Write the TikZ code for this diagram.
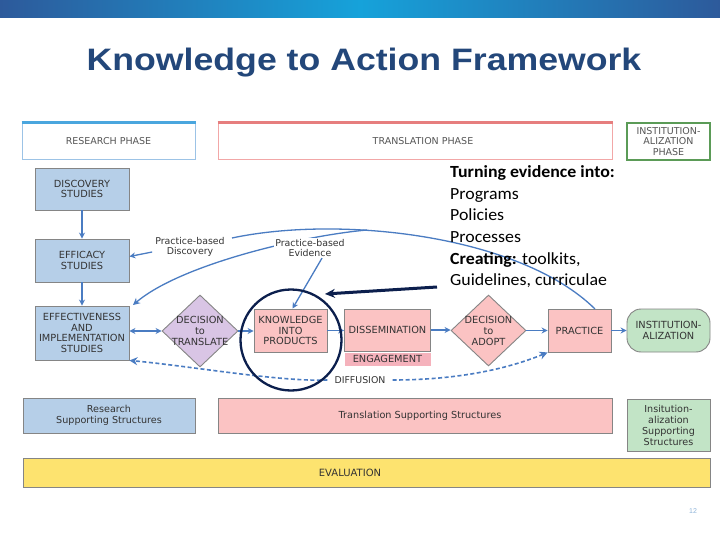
\documentclass[tikz,border=0pt]{standalone}
\usepackage{fontspec}
\setmainfont{Liberation Sans}
\newfontfamily\dfont{DejaVu Sans}
\newfontfamily\cfont[FakeStretch=1.05]{Carlito}
\newfontfamily\titlefont[FakeStretch=1.15]{Liberation Sans Bold}
\usetikzlibrary{shapes.geometric,arrows.meta}
\definecolor{bannerdark}{HTML}{2D5A9B}
\definecolor{bannerlight}{HTML}{16A2DA}
\definecolor{titlec}{HTML}{23477A}
\definecolor{bluef}{HTML}{B6CFE8}
\definecolor{pinkf}{HTML}{FBC3C3}
\definecolor{lavf}{HTML}{D9C5E5}
\definecolor{greenf}{HTML}{C2E4C6}
\definecolor{yellowf}{HTML}{FDE36F}
\definecolor{engf}{HTML}{F5B2BC}
\definecolor{boxline}{HTML}{858585}
\definecolor{txt}{HTML}{333333}
\definecolor{hdrtxt}{HTML}{555555}
\definecolor{arrowc}{HTML}{4A7CC2}
\definecolor{navy}{HTML}{0C1F4D}
\definecolor{resline}{HTML}{9CC3E6}
\definecolor{restop}{HTML}{4AA6DE}
\definecolor{transline}{HTML}{F2A7A7}
\definecolor{transtop}{HTML}{E67E7E}
\definecolor{instline}{HTML}{5B9B57}
\definecolor{pagec}{HTML}{8FB4D9}
\tikzset{
  dtext/.style={font=\dfont\fontsize{9.8}{10.7}\selectfont, text=txt, align=center, inner sep=0pt},
  box/.style={dtext, draw=boxline, line width=0.9pt},
  bluebox/.style={box, fill=bluef},
  pinkbox/.style={box, fill=pinkf},
  greenbox/.style={box, fill=greenf},
  dia/.style={diamond, draw=boxline, line width=0.9pt, inner sep=0pt, minimum width=76pt, minimum height=72pt},
  hdr/.style={fill=white, font=\dfont\fontsize{9.5}{10.6}\selectfont, text=hdrtxt, align=center, inner sep=0pt},
  lbl/.style={fill=white, font=\dfont\fontsize{9.4}{10.5}\selectfont, text=txt, align=center, inner sep=1pt},
  flow/.style={draw=arrowc, line width=1.3pt, -{Stealth[length=6pt,width=6pt]}},
  dflow/.style={draw=arrowc, line width=1.3pt, {Stealth[length=6pt,width=6pt]}-{Stealth[length=6pt,width=6pt]}},
  arc/.style={draw=arrowc, line width=1.3pt},
  dashflow/.style={draw=arrowc, line width=1.6pt, dash pattern=on 4pt off 2.5pt, -{Stealth[length=8pt,width=8pt]}},
  tb/.style={font=\cfont\fontsize{17}{20}\selectfont, text=black, inner sep=0pt, anchor=base west},
}
\begin{document}
\begin{tikzpicture}[x=1pt,y=-1pt]
\useasboundingbox (0,0) rectangle (720,540);
\fill[white] (0,0) rectangle (720,540);
% banner
\shade[left color=bannerdark, right color=bannerdark, middle color=bannerlight] (0,0) rectangle (720,18);
% title
\node[font=\titlefont\fontsize{31}{34}\selectfont, text=titlec, anchor=base, inner sep=0pt] (title) at (364,71) {Knowledge to Action Framework};

% phase headers
\node[hdr, draw=resline, line width=1pt, minimum width=173pt, minimum height=37pt] (resph) at (108.5,141.5) {RESEARCH PHASE};
\draw[restop, line width=2.5pt] (resph.north west) -- (resph.north east);
\node[hdr, draw=transline, line width=1pt, minimum width=394pt, minimum height=37pt] (transph) at (415,141.5) {};
\draw[transtop, line width=2.5pt] (transph.north west) -- (transph.north east);
\node[hdr] (transtxt) at (423,141.5) {TRANSLATION PHASE};
\node[hdr, draw=instline, line width=1.6pt, minimum width=83pt, minimum height=37pt] (instph) at (668.5,141.5) {INSTITUTION-\\ALIZATION\\PHASE};

% research column
\node[bluebox, minimum width=94pt, minimum height=42pt] (disc) at (82,189) {DISCOVERY\\STUDIES};
\node[bluebox, minimum width=94pt, minimum height=43pt] (eff) at (82,260.5) {EFFICACY\\STUDIES};
\node[bluebox, minimum width=94pt, minimum height=54pt] (eimp) at (82,333) {EFFECTIVENESS\\AND\\IMPLEMENTATION\\STUDIES};

% translation row
\node[dia, fill=lavf] (dtt) at (200,331) {};
\node[dtext] (dtttxt) at (200,331) {DECISION\\to\\TRANSLATE};
\node[pinkbox, minimum width=73pt, minimum height=43pt] (kip) at (290.5,330.5) {KNOWLEDGE\\INTO\\PRODUCTS};
\node[pinkbox, minimum width=86pt, minimum height=42pt] (diss) at (387.5,330) {DISSEMINATION};
\node[dtext, fill=engf, minimum width=86pt, minimum height=13pt] (eng) at (387.5,359) {ENGAGEMENT};
\node[dia, fill=pinkf, minimum width=75pt, minimum height=71pt] (dta) at (488.5,330.5) {};
\node[dtext] (dtatxt) at (488.5,331) {DECISION\\to\\ADOPT};
\node[pinkbox, minimum width=63pt, minimum height=43pt] (prac) at (579.5,330.5) {PRACTICE};
\node[greenbox, rounded corners=14pt, minimum width=83pt, minimum height=43pt] (inst) at (668.5,330.5) {INSTITUTION-\\ALIZATION};

% straight flows
\draw[flow] (disc.south) -- (eff.north);
\draw[flow] (eff.south) -- (eimp.north);
\draw[dflow] (eimp.east |- dtt.west) -- (dtt.west);
\draw[flow] (dtt.east) -- (kip.west |- dtt.east);
\draw[flow] (kip.east) -- (diss.west |- kip.east);
\draw[flow] (diss.east) -- (dta.west |- diss.east);
\draw[flow] (dta.east) -- (prac.west |- dta.east);
\draw[flow] (prac.east) -- (inst.west);

% feedback arcs
\coordinate (arcstart) at (595,309);
\coordinate (arcend) at (232,238);
\coordinate (merge) at (367,230);
\coordinate (eimptip) at (133,305);
\draw[arc] (arcstart) .. controls (520,235) and (340,215) .. (arcend);
\draw[arc, -{Stealth[length=7pt,width=7pt]}] (merge) .. controls (300,236) and (180,265) .. (eimptip);
\node[lbl] (pbd) at (190,247) {Practice-based\\Discovery};
\node[lbl] (pbe) at (310,248) {Practice-based\\Evidence};
\draw[flow] ([xshift=-2pt,yshift=-5pt]pbd.west) -- ([yshift=4pt]eff.east);
\draw[flow] ([xshift=12pt]pbe.south) -- ([xshift=2pt]kip.north);

% diffusion
\node[lbl, inner sep=2pt] (dif) at (360,380) {DIFFUSION};
\draw[dashflow] ([xshift=-5pt]dif.west) .. controls (280,382) and (190,366) .. (eimp.south east);
\draw[dashflow] ([xshift=5pt]dif.east) .. controls (460,380) and (510,368) .. (prac.south west);

% supporting structures
\node[bluebox, font=\dfont\fontsize{9.6}{11}\selectfont, minimum width=172pt, minimum height=35pt] (rss) at (109,415.5) {Research\\Supporting Structures};
\node[pinkbox, minimum width=394pt, minimum height=35pt] (tss) at (415,415.5) {};
\node[dtext, font=\dfont\fontsize{9.7}{11}\selectfont] (tsstxt) at (420,415.5) {Translation Supporting Structures};
\node[greenbox, font=\dfont\fontsize{9.6}{10.8}\selectfont, minimum width=83pt, minimum height=52pt] (iss) at (668.5,425.5) {Insitution-\\alization\\Supporting\\Structures};

% evaluation
\node[box, fill=yellowf, minimum width=687pt, minimum height=29pt] (evalbar) at (366.5,472.5) {};
\node[dtext, font=\dfont\fontsize{10}{11}\selectfont] (evaltxt) at (350,473) {EVALUATION};

% annotation
\node[circle, draw=navy, line width=2.3pt, minimum size=101pt, inner sep=0pt] (ring) at (291,340) {};
\coordinate (navystart) at (437,287);
\coordinate (navytip) at (325,294);
\draw[navy, line width=3pt, -{Stealth[length=10pt,width=9pt]}] (navystart) -- (navytip);

\node[tb] (l1) at (450,178) {\textbf{Turning evidence into:}};
\node[tb] (l2) at (450,199.5) {Programs};
\node[tb] (l3) at (450,221) {Policies};
\node[tb] (l4) at (450,242.5) {Processes};
\node[tb] (l5) at (450,264) {\textbf{Creating:} toolkits,};
\node[tb] (l6) at (450,285.5) {Guidelines, curriculae};

\node[font=\fontsize{7}{8}\selectfont, text=pagec, inner sep=0pt] (pagenum) at (693,511) {12};
\end{tikzpicture}
\end{document}
